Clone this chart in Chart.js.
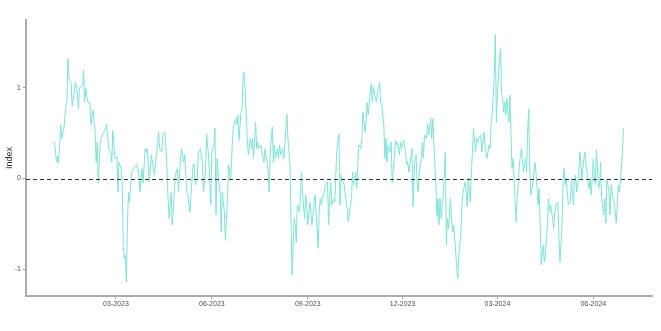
<!DOCTYPE html>
<html><head><meta charset="utf-8">
<script src="https://cdn.jsdelivr.net/npm/chart.js@4.4.0/dist/chart.umd.min.js"></script>
<style>html,body{margin:0;padding:0;background:#fff}#wrap{width:661px;height:331px}</style>
</head><body><div id="wrap"><canvas id="c" width="661" height="331"></canvas></div>
<script>
// Day offsets from 2023-01-01 and index values
const startDate = '2023-01-01';
const days = [0,2,3,4,6,7,9,11,12,13,14,16,17,19,20,22,23,24,27,28,29,30,32,34,35,37,39,40,41,42,44,46,49,50,52,54,55,56,58,60,61,62,64,65,66,67,68,69,70,71,72,74,76,78,79,81,82,84,85,87,88,89,91,93,94,96,98,100,101,103,104,106,108,109,110,112,113,115,116,118,119,121,122,124,125,127,128,130,131,133,
134,135,137,138,140,142,143,145,146,148,150,151,153,154,155,156,158,159,160,161,163,164,166,167,169,170,171,172,174,175,176,177,179,180,181,182,184,185,186,188,189,190,191,193,194,195,196,198,199,201,202,204,205,206,207,209,210,211,212,214,215,216,217,219,220,221,223,224,226,227,228,230,231,232,233,235,236,237,238,240,241,242,243,245,246,247,249,250,251,253,254,255,256,258,259,260,262,263,264,265,266,268,269,
270,271,273,274,275,277,278,279,281,282,284,285,286,287,289,290,291,292,294,295,296,298,299,300,301,303,304,305,306,308,309,310,312,313,314,316,317,318,319,320,322,323,324,326,327,328,329,331,332,333,335,336,338,339,340,341,343,344,345,346,347,348,349,350,352,353,354,355,357,358,359,361,362,363,364,366,367,368,369,370,371,373,374,375,376,377,378,380,381,382,383,385,386,387,388,390,391,392,394,395,396,397,399,400,401,402,404,405,406,
407,409,410,412,413,415,417,418,419,420,422,423,424,425,427,428,429,430,431,432,433,434,436,437,438,439,440,441,443,444,445,446,448,449,450,452,453,454,455,456,457,458,459,461,462,464,465,466,467,469,470,471,473,474,475,476,478,479,480,481,483,484,485,487,488,489,490,491,493,494,495,496,498,499,500,501,503,504,505,506,508,509,510,512,513,514,515,517,518,519,520,522,523,524,525,527,528,529,530,532,533,534,536,537,538,539,541,542,543,545,546];
const values = [0.40,0.18,0.25,0.17,0.59,0.44,0.55,0.80,0.85,1.32,1.10,1.05,0.80,0.95,1.06,0.95,0.77,1.00,1.02,1.19,0.84,0.99,0.84,0.84,0.59,0.75,0.51,0.18,0.40,-0.05,0.40,0.48,0.55,0.60,0.33,0.29,0.18,0.53,0.22,0.24,-0.15,0.18,0.11,-0.04,-0.73,-0.88,-0.84,-1.14,-0.51,-0.15,-0.26,0.07,0.11,0.15,0.16,0.04,-0.15,0.11,-0.05,0.33,0.29,0.33,-0.04,0.26,0.18,0.04,0.29,0.51,0.33,0.29,0.48,0.51,0.11,-0.22,-0.44,-0.15,-0.51,-0.15,0.04,0.11,-0.15,0.22,0.33,0.18,0.26,-0.15,-0.18,-0.37,-0.18,0.15,
0.16,-0.07,0.00,0.29,0.33,0.15,-0.15,0.11,0.49,0.22,-0.29,0.29,0.37,0.55,-0.40,0.22,-0.07,-0.15,-0.59,-0.15,-0.37,-0.68,-0.22,0.15,-0.02,0.22,0.48,0.59,0.66,0.59,0.70,0.42,0.73,0.77,1.15,1.17,0.70,0.44,0.26,0.44,0.33,0.44,0.22,0.62,0.33,0.40,0.33,0.37,0.29,0.18,0.33,0.18,0.07,-0.15,0.29,0.57,0.18,0.37,0.22,0.33,0.22,0.37,0.26,0.33,0.22,0.37,0.71,0.44,0.15,-0.51,-1.06,-0.44,-0.51,-0.70,-0.29,-0.37,-0.18,0.07,-0.15,-0.44,-0.18,-0.29,-0.51,-0.26,-0.37,-0.51,-0.29,-0.18,-0.37,-0.77,-0.37,-0.22,-0.29,-0.18,-0.15,-0.07,-0.04,-0.51,-0.22,-0.04,-0.29,-0.22,-0.26,
0.07,0.33,0.49,-0.29,0.04,-0.04,-0.07,-0.18,-0.35,-0.48,-0.29,-0.22,0.07,-0.07,0.07,-0.11,0.15,0.37,0.33,0.44,0.73,0.51,0.62,0.84,0.70,0.95,1.04,0.84,1.01,0.88,0.84,0.95,1.06,0.84,0.81,0.59,0.22,0.44,0.18,0.37,0.29,0.40,-0.05,0.22,0.42,0.37,0.40,0.26,0.40,0.33,0.42,0.37,0.15,0.18,0.07,0.15,0.33,-0.31,0.04,0.22,0.26,-0.07,-0.15,0.07,0.22,0.40,0.22,0.48,0.44,0.60,0.48,0.66,0.44,0.66,0.37,-0.07,-0.42,-0.22,-0.51,-0.22,-0.44,-0.18,0.04,0.29,-0.73,-0.44,-0.55,-0.22,-0.44,-0.59,-0.51,-0.81,-0.99,-1.10,-0.84,-0.59,-0.29,-0.15,-0.04,-0.15,-0.31,0.00,-0.26,0.07,0.29,0.55,0.29,0.44,0.40,
0.44,0.48,0.29,0.51,0.37,0.22,0.37,0.33,0.62,0.70,1.14,1.59,0.62,0.95,1.32,1.43,0.95,0.88,0.73,0.84,0.70,0.88,0.62,0.92,0.48,0.11,0.22,0.00,-0.48,-0.22,-0.07,0.15,0.33,0.22,0.07,0.22,0.07,0.51,0.77,0.15,-0.18,-0.11,-0.04,0.18,0.07,-0.29,-0.11,-0.51,-0.95,-0.73,-0.92,-0.84,-0.51,-0.22,-0.37,-0.29,-0.44,-0.55,-0.37,-0.29,-0.26,-0.66,-0.92,-0.51,-0.04,0.11,-0.07,0.00,-0.29,-0.26,-0.26,0.00,-0.29,0.00,0.04,-0.15,0.04,0.29,0.18,0.00,0.22,0.29,0.15,-0.04,-0.11,0.00,-0.18,0.22,0.04,-0.07,0.31,-0.11,-0.07,0.18,-0.22,-0.40,-0.22,-0.49,0.00,-0.15,-0.40,-0.07,-0.22,-0.26,-0.37,-0.49,-0.07,-0.15,-0.04,0.29,0.55];

// Quarterly tick positions (day offsets) and labels
const tickDays = [59, 151, 243, 334, 425, 517];
const tickLabels = ['03-2023', '06-2023', '09-2023', '12-2023', '03-2024', '06-2024'];
const yTicks = [-1, 0, 1];
const yTitle = 'Index';

const points = days.map((d, i) => ({x: d, y: values[i]}));

const zeroLine = {
  id: 'zeroLine',
  afterDatasetsDraw(chart) {
    const {ctx, chartArea: {left, right}, scales: {y}} = chart;
    const py = Math.round(y.getPixelForValue(0)) + 0.5;
    ctx.save();
    ctx.strokeStyle = '#333333';
    ctx.lineWidth = 1;
    ctx.setLineDash([4, 3]);
    ctx.beginPath();
    ctx.moveTo(left, py);
    ctx.lineTo(right, py);
    ctx.stroke();
    ctx.restore();
  }
};

const font = {family: "'Liberation Sans', Arial, sans-serif", size: 7};

new Chart(document.getElementById('c'), {
  type: 'line',
  data: {
    datasets: [{
      data: points,
      borderColor: '#7ce4d5',
      borderWidth: 1,
      pointRadius: 0,
      tension: 0,
      fill: false
    }]
  },
  options: {
    responsive: false,
    animation: false,
    devicePixelRatio: 1,
    layout: {padding: {top: 20, right: 9, left: 0, bottom: 0}},
    plugins: {legend: {display: false}, tooltip: {enabled: false}},
    scales: {
      x: {
        type: 'linear',
        min: -27.3,
        max: 573.3,
        afterBuildTicks: s => { s.ticks = tickDays.map(v => ({value: v})); },
        afterFit: s => { s.height = 35; },
        ticks: {
          callback: (v, i) => tickLabels[i],
          autoSkip: false, maxRotation: 0, minRotation: 0,
          font: font, color: '#4d4d4d', padding: 1
        },
        grid: {drawOnChartArea: false, drawTicks: true, tickLength: 3, color: '#9a9a9a'},
        border: {display: true, color: '#ababab', width: 2}
      },
      y: {
        min: -1.293,
        max: 1.745,
        afterBuildTicks: s => { s.ticks = yTicks.map(v => ({value: v})); },
        afterFit: s => { s.width = 26; },
        ticks: {
          callback: v => String(v),
          font: font, color: '#4d4d4d', padding: 2
        },
        grid: {drawOnChartArea: false, drawTicks: true, tickLength: 3, color: '#9a9a9a'},
        border: {display: true, color: '#ababab', width: 2},
        title: {
          display: true, text: yTitle, color: '#2e2e2e',
          font: {family: "'Liberation Sans', Arial, sans-serif", size: 9},
          padding: {top: 4, bottom: 0}
        }
      }
    }
  },
  plugins: [zeroLine]
});
</script>
</body></html>
